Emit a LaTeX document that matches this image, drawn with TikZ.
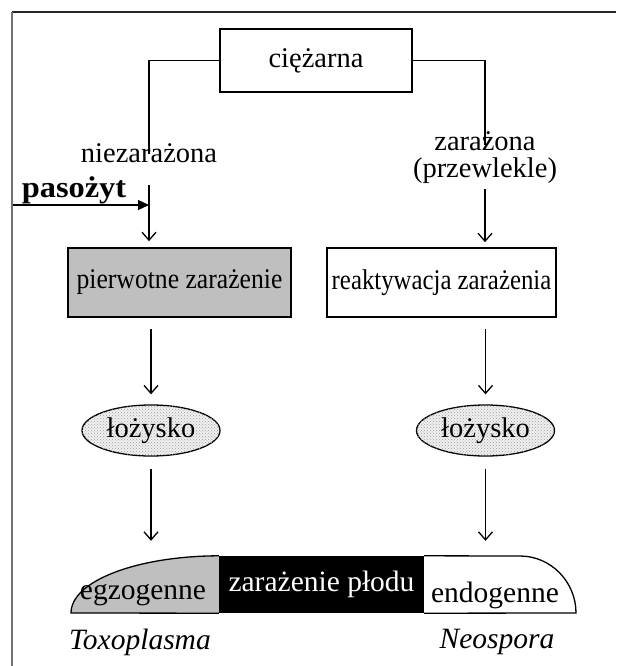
\documentclass[tikz,border=0pt]{standalone}
\usepackage{fontspec}
\setmainfont{Liberation Serif}
\newfontfamily\widebold[FakeStretch=1.08]{Liberation Serif}
\newfontfamily\narrowfont[FakeStretch=0.9]{Liberation Serif}
\usetikzlibrary{arrows.meta,shapes.geometric,patterns}
\begin{document}
\begin{tikzpicture}[x=1pt, y=-1pt,
  every node/.style={inner sep=0pt, font=\fontsize{28.5}{27}\selectfont},
  box/.style={draw, line width=1.6pt, minimum height=69pt, font=\fontsize{28.5}{27}\selectfont\narrowfont},
  lozy/.style={ellipse, draw, line width=1.3pt, fill=gray!12,
    postaction={pattern=crosshatch dots, pattern color=gray!75},
    minimum width=138pt, minimum height=51pt},
  bottom/.style={font=\fontsize{29.5}{30}\selectfont},
  conn/.style={line width=1.3pt},
  arr/.style={line width=1.3pt, -{Straight Barb[length=8pt, width=14pt, line width=1.3pt]}}]

  \useasboundingbox (0,0) rectangle (616,666);
  \draw[line width=1.2pt, black!85] (12,12) -- (616,12);
  \draw[line width=1.2pt, black!55] (12,12) -- (12,666);

  \node[box, minimum width=192pt, minimum height=63pt, font=\fontsize{28.5}{27}\selectfont] (ciez) at (316,60.5) {ciężarna};
  \node (niez) at (149,153) {niezarażona};
  \node[align=center] (zar) at (485,158) {zarażona\\(przewlekle)};
  \node[anchor=base, font=\fontsize{30}{30}\selectfont\widebold\bfseries] (paso) at (74,197) {pasożyt};
  \coordinate (pasoin) at (13,205);

  \node[box, fill=gray!50, minimum width=223pt] (pierw) at (179.5,282.5) {pierwotne zarażenie};
  \node[box, minimum width=229pt, font=\fontsize{28.5}{27}\addfontfeature{FakeStretch=0.87}] (reak) at (441.5,282.5) {reaktywacja zarażenia};

  \node[lozy] (loz1) at (151,430.5) {łożysko};
  \node[lozy] (loz2) at (485.5,430.5) {łożysko};

  % zarazenie plodu
  \fill[gray!50] (71,613) .. controls (71,581) and (137,556) .. (219,556) -- (219,613) -- cycle;
  \node[bottom, fill=black, text=white, minimum width=205pt, minimum height=57pt] (plod) at (321.5,584.5) {zarażenie płodu};
  \draw[conn] (plod.south west) -- (71,613) .. controls (71,581) and (137,556) .. (plod.north west);
  \draw[conn] (plod.north east) -- (520,556) .. controls (551,556) and (576,582) .. (576,613) -- (plod.south east);
  \node[bottom] (egzo) at (143,595) {egzogenne};
  \node[bottom] (endo) at (495,595) {endogenne};
  \node[bottom, font=\fontsize{29.5}{30}\selectfont\itshape] (toxo) at (140,642) {Toxoplasma};
  \node[bottom, font=\fontsize{29.5}{30}\selectfont\itshape] (neo) at (497,642) {Neospora};

  \draw[conn] (ciez.west) -| ([yshift=-11pt]niez.north);
  \draw[conn] (ciez.east) -| ([yshift=-13pt]zar.north);
  \draw[line width=1.3pt, -{Triangle[length=11pt, width=10pt]}] (pasoin) -- (pasoin -| niez.south);
  \draw[arr, shorten <=22pt, shorten >=6pt] (niez.south) -- (niez.south |- pierw.north);
  \draw[arr, shorten <=5pt, shorten >=5pt] (zar.south) -- (zar.south |- reak.north);
  \draw[arr, shorten <=11pt, shorten >=10pt] (loz1 |- pierw.south) -- (loz1.north);
  \draw[arr, shorten <=11pt, shorten >=10pt] (loz2 |- reak.south) -- (loz2.north);
  \draw[arr, shorten <=12pt, shorten >=15pt] (loz1.south) -- (loz1.south |- plod.north);
  \draw[arr, shorten <=12pt, shorten >=15pt] (loz2.south) -- (loz2.south |- plod.north);
\end{tikzpicture}
\end{document}
